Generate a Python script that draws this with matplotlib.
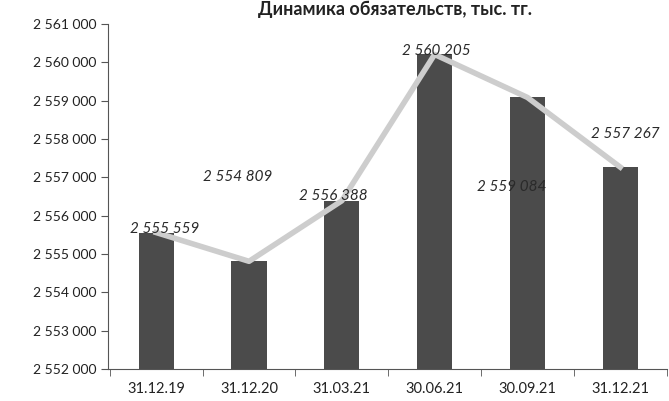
import matplotlib.pyplot as plt
from matplotlib.ticker import FuncFormatter

dates = ["31.12.19", "31.12.20", "31.03.21", "30.06.21", "30.09.21", "31.12.21"]
values = [2555559, 2554809, 2556388, 2560205, 2559084, 2557267]
label_text = ["2 555 559", "2 554 809", "2 556 388", "2 560 205", "2 559 084", "2 557 267"]
label_offsets = [(8, 4), (-11, 84), (-9, 5), (2, 3), (-16, -90), (5, 33)]

plt.rcParams['font.family'] = ['Lato', 'DejaVu Sans']

fig = plt.figure( figsize=(6.69, 4.01), dpi=100 )
ax = fig.add_axes( [0.1614, 0.0798, 0.835, 0.8604] )

x = list( range( len( dates ) ) )
ax.bar( x, values, width=0.38, color="#4b4b4b", zorder=2 )
ax.plot( x, values, color="#cdcdcd", linewidth=4, zorder=3 )

for i in x:
    ax.annotate( label_text[i], ( i, values[i] ), xytext=label_offsets[i],
                 textcoords="offset pixels", ha="center", va="center",
                 fontsize=11, style="italic", color="#2a2a2a", zorder=4 )

ax.set_ylim( 2552000, 2561000 )
ax.set_yticks( range( 2552000, 2561001, 1000 ) )
ax.yaxis.set_major_formatter( FuncFormatter( lambda v, p: "{:,.0f}".format( v ).replace( ",", " " ) ) )
ax.set_xlim( -0.52, 5.47 )
ax.set_xticks( x )
ax.set_xticklabels( dates )
ax.set_xticks( [i + 0.5 for i in range( -1, 6 )], minor=True )
ax.tick_params( axis="x", which="major", length=0, pad=9, labelsize=10.5, colors="#222222" )
ax.tick_params( axis="x", which="minor", length=5, direction="out", color="#555555" )
ax.tick_params( axis="y", length=5, direction="out", labelsize=10, colors="#222222", color="#555555" )
ax.spines["top"].set_visible( False )
ax.spines["right"].set_visible( False )
ax.spines["left"].set_color( "#555555" )
ax.spines["bottom"].set_color( "#555555" )

fig.text( 0.59, 1 - 9 / 401, "Динамика обязательств, тыс. тг.", ha="center", va="center",
          fontsize=13, fontweight="bold", color="#222222" )

plt.savefig( "out.png", dpi=100 )
plt.close()
